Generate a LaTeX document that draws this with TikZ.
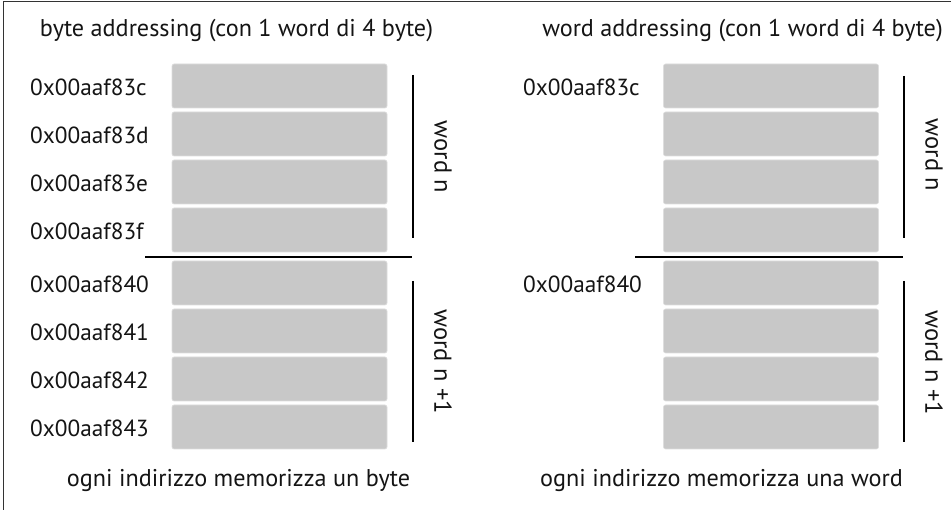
\documentclass[tikz,border=0pt]{standalone}
\usepackage{fontspec}
\setmainfont{PT Sans}
\definecolor{cellgray}{RGB}{200,200,200}
\definecolor{cellrim}{RGB}{222,222,222}
\definecolor{ink}{RGB}{20,20,20}
\begin{document}
\begin{tikzpicture}[x=1pt,y=-1pt,
  cell/.style={draw=cellrim,line width=0.6pt,fill=cellgray,rounded corners=2pt,
    minimum width=215pt,minimum height=44pt,inner sep=0pt},
  addr/.style={anchor=base west,inner sep=0pt,text=ink,font=\fontsize{23.3}{26}\selectfont},
  title/.style={anchor=base,inner sep=0pt,text=ink,font=\fontsize{24.2}{26}\selectfont},
  brace/.style={line width=2.2pt,draw=black},
  wlabel/.style={rotate=-90,inner sep=0pt,text=ink,font=\fontsize{24.5}{26}\selectfont}]
\useasboundingbox (0,0) rectangle (951,510);
% frame (left and top edges)
\draw[line width=1.2pt,black!80] (3.5,510) -- (3.5,1.5) -- (951,1.5);

% ---------- byte addressing ----------
\node[title] (t1) at (236.5,37) {byte addressing (con 1 word di 4 byte)};
\foreach \i/\y/\a in {1/86/0x00aaf83c,2/134/0x00aaf83d,3/182/0x00aaf83e,4/230/0x00aaf83f,
                      5/283/0x00aaf840,6/331/0x00aaf841,7/379/0x00aaf842,8/427/0x00aaf843}{
  \node[cell] (b\i) at (279.5,\y) {};
  \node[addr] (ba\i) at (30,\y+10) {\a};
}
\coordinate (bs1) at (145,257);
\coordinate (bs2) at (412,257);
\draw[brace] (bs1) -- (bs2);
\coordinate (bv1) at (413,75);  \coordinate (bv2) at (413,238);
\coordinate (bv3) at (413,281); \coordinate (bv4) at (413,442);
\draw[brace] (bv1) -- (bv2);
\draw[brace] (bv3) -- (bv4);
\node[wlabel] (bw1) at (443,157) {word n};
\node[wlabel] (bw2) at (443,362) {word n +1};
\node[title] (f1) at (238.5,486) {ogni indirizzo memorizza un byte};

% ---------- word addressing ----------
\node[title] (t2) at (742.5,37) {word addressing (con 1 word di 4 byte)};
\foreach \i/\y in {1/86,2/134,3/182,4/230,5/283,6/331,7/379,8/427}{
  \node[cell] (w\i) at (771,\y) {};
}
\node[addr] (wa1) at (523,96) {0x00aaf83c};
\node[addr] (wa5) at (523,293) {0x00aaf840};
\coordinate (ws1) at (635,257);
\coordinate (ws2) at (903,257);
\draw[brace] (ws1) -- (ws2);
\coordinate (wv1) at (904,76);  \coordinate (wv2) at (904,238);
\coordinate (wv3) at (904,281); \coordinate (wv4) at (904,442);
\draw[brace] (wv1) -- (wv2);
\draw[brace] (wv3) -- (wv4);
\node[wlabel] (ww1) at (934,155) {word n};
\node[wlabel] (ww2) at (934,363) {word n +1};
\node[title] (f2) at (721.5,486) {ogni indirizzo memorizza una word};
\end{tikzpicture}
\end{document}
